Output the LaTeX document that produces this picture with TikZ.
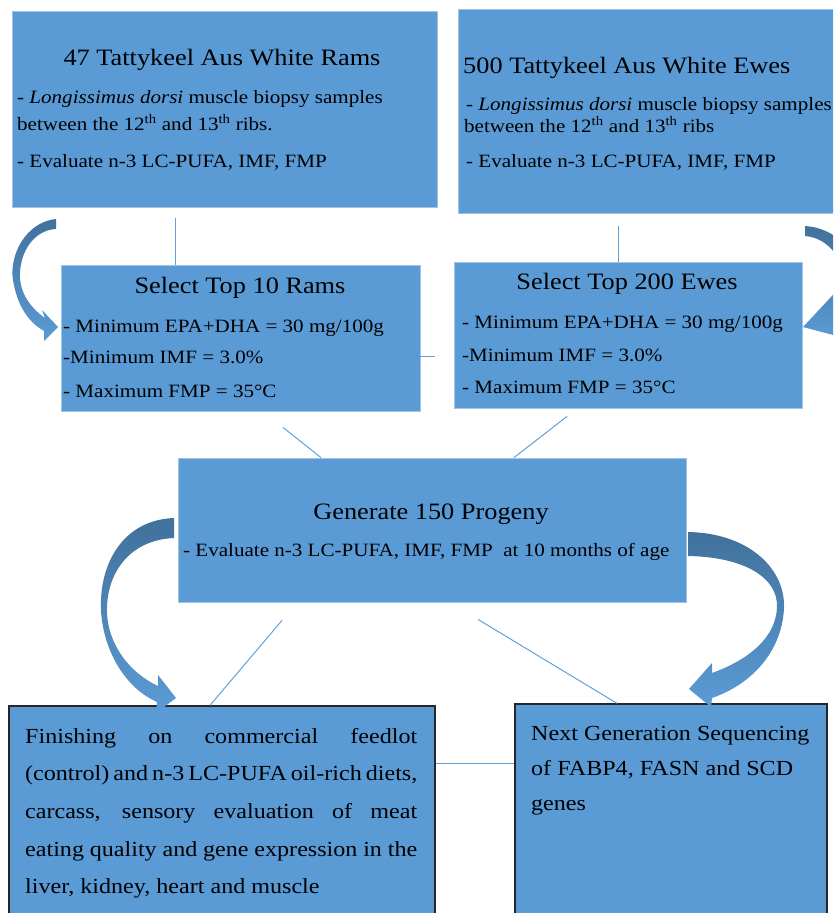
\documentclass[tikz,border=0pt]{standalone}
\usepackage{fontspec}
\setmainfont{Liberation Serif}[FakeStretch=1.12]
\definecolor{boxblue}{RGB}{91,155,213}
\definecolor{edgeblue}{RGB}{160,196,230}
\definecolor{linkblue}{RGB}{100,160,215}
\definecolor{arrdark}{RGB}{65,113,156}
\definecolor{arrlight}{RGB}{91,155,213}
\begin{document}
\begin{tikzpicture}[x=1pt,y=-1pt,
  box/.style={rectangle, fill=boxblue, draw=edgeblue, line width=0.8pt, inner sep=0pt},
  obox/.style={rectangle, fill=boxblue, draw=black!85, line width=1.3pt, inner sep=0pt},
  ttl/.style={inner sep=0pt, font=\fontsize{23.5}{25}\selectfont, anchor=base},
  ttlw/.style={inner sep=0pt, font=\fontsize{23.5}{25}\selectfont, anchor=base west},
  txt/.style={inner sep=0pt, font=\fontsize{18.8}{20}\selectfont, anchor=base west},
  txtb/.style={inner sep=0pt, font=\fontsize{21.5}{20}\selectfont, anchor=base west},
  conn/.style={draw=linkblue, line width=1pt},
  arr/.style={top color=arrdark, bottom color=arrlight},
  ]
\useasboundingbox (0,0) rectangle (833,913);
\clip (0,0) rectangle (833,913);

% boxes
\node[box, minimum width=425pt, minimum height=196pt] (b1) at (224.5,109) {};
\node[box, minimum width=387pt, minimum height=204pt] (b2) at (651.5,111) {};
\node[box, minimum width=359pt, minimum height=146pt] (b3) at (240.5,338) {};
\node[box, minimum width=348pt, minimum height=146pt] (b4) at (628,335) {};
\node[box, minimum width=508pt, minimum height=144pt] (b5) at (432,530) {};
\node[obox, minimum width=426pt, minimum height=224pt] (b6) at (222,818) {};
\node[obox, minimum width=312pt, minimum height=226pt] (b7) at (671,817) {};

% connectors
\draw[conn] (b1.south -| 175,0) ++(0,11) -- (b3.north -| 175,0);
\draw[conn] (b2.south -| 618,0) ++(0,13) -- (b4.north -| 618,0);
\draw[conn] (b3.east |- 0,356) -- ++(15,0);
\draw[conn] (b3.south -| 283,0) ++(0,16) -- (b5.north -| 321,0);
\draw[conn] (b4.south -| 567,0) ++(0,8) -- (b5.north -| 514,0);
\draw[conn] (b5.south -| 282,0) ++(0,18) -- (b6.north -| 210,0);
\draw[conn] (b5.south -| 478,0) ++(0,17) -- (b7.north -| 617,0);
\draw[conn] (b6.east |- 0,763) -- (b7.west |- 0,763);

% curved arrows
\shade[arr] (56,219) .. controls (26,222) and (9,255) .. (13,280)
  .. controls (17,305) and (28,322) .. (44,331)
  -- (44,341) -- (58,327) -- (42,310) -- (45,318)
  .. controls (32,309) and (21,295) .. (20,278)
  .. controls (19,252) and (34,230) .. (56,229) -- cycle;
\shade[arr] (805,226) .. controls (835,228) and (858,250) .. (862,285)
  -- (866,300) -- (852,340) -- (803,327) -- (845,282) -- (848,292)
  .. controls (846,262) and (830,238) .. (805,236) -- cycle;
\shade[arr] (174,518) .. controls (122,520) and (99,565) .. (101,610)
  .. controls (103,650) and (125,688) .. (157,702)
  -- (156,713) -- (176,698) -- (158,675) -- (158,686)
  .. controls (130,673) and (108,645) .. (107,612)
  .. controls (106,575) and (128,540) .. (174,538) -- cycle;
\shade[arr] (688,532) .. controls (748,533) and (785,568) .. (784,607)
  .. controls (783,645) and (758,682) .. (712,698)
  -- (711,707) -- (689,689) -- (712,663) -- (712,673)
  .. controls (748,660) and (776,638) .. (777,607)
  .. controls (778,578) and (745,557) .. (688,556) -- cycle;

% texts box 1
\node[ttl] (b1t) at (222,65) {47 Tattykeel Aus White Rams};
\node[txt] (b1a) at (17,103) {- \textit{Longissimus dorsi} muscle biopsy samples};
\node[txt] (b1b) at (17,130) {between the 12\textsuperscript{th} and 13\textsuperscript{th} ribs.};
\node[txt] (b1c) at (17,167) {- Evaluate n-3 LC-PUFA, IMF, FMP};
% box 2
\node[ttlw] (b2t) at (463,73) {500 Tattykeel Aus White Ewes};
\node[txt] (b2a) at (466,110) {- \textit{Longissimus dorsi} muscle biopsy samples};
\node[txt] (b2b) at (464,132) {between the 12\textsuperscript{th} and 13\textsuperscript{th} ribs};
\node[txt] (b2c) at (466,167) {- Evaluate n-3 LC-PUFA, IMF, FMP};
% box 3
\node[ttl] (b3t) at (240,293) {Select Top 10 Rams};
\node[txt] (b3a) at (63,332) {- Minimum EPA+DHA = 30 mg/100g};
\node[txt] (b3b) at (63,363) {-Minimum IMF = 3.0\%};
\node[txt] (b3c) at (63,397) {- Maximum FMP = 35°C};
% box 4
\node[ttl] (b4t) at (627,289) {Select Top 200 Ewes};
\node[txt] (b4a) at (462,328) {- Minimum EPA+DHA = 30 mg/100g};
\node[txt] (b4b) at (462,361) {-Minimum IMF = 3.0\%};
\node[txt] (b4c) at (462,393) {- Maximum FMP = 35°C};
% box 5
\node[ttl] (b5t) at (431,519) {Generate 150 Progeny};
\node[txt] (b5a) at (183,556) {- Evaluate n-3 LC-PUFA, IMF, FMP\ \ at 10 months of age};
% box 6
\node[txtb] (b6a) at (25,743) {\makebox[392pt][s]{Finishing on commercial feedlot}};
\node[txtb] (b6b) at (25,780) {\makebox[392pt][s]{(control) and n-3 LC-PUFA oil-rich diets,}};
\node[txtb] (b6c) at (25,818) {\makebox[392pt][s]{carcass, sensory evaluation of meat}};
\node[txtb] (b6d) at (25,856) {\makebox[392pt][s]{eating quality and gene expression in the}};
\node[txtb] (b6e) at (25,893) {liver, kidney, heart and muscle};
% box 7
\node[txtb] (b7a) at (531,740) {Next Generation Sequencing};
\node[txtb] (b7b) at (531,775) {of FABP4, FASN and SCD};
\node[txtb] (b7c) at (531,810) {genes};
\end{tikzpicture}
\end{document}
